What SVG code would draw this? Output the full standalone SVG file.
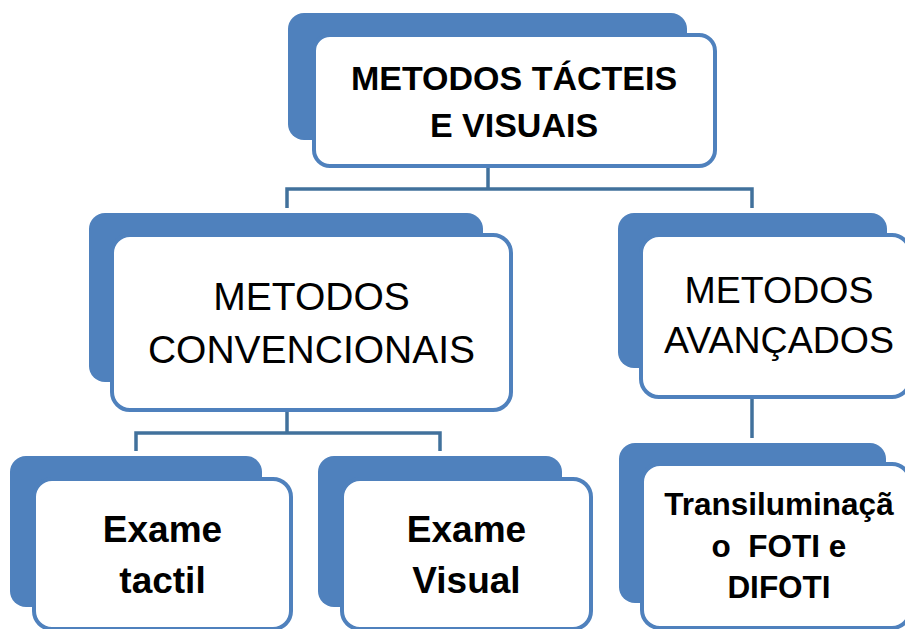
<svg xmlns="http://www.w3.org/2000/svg" width="905" height="629" viewBox="0 0 905 629">
<style>
.back{fill:#4F81BD;}
.front{fill:#FFFFFF;stroke:#4F81BD;stroke-width:4;}
.conn{fill:none;stroke:#41719C;stroke-width:3.5;stroke-linejoin:miter;}
.t{font-family:"Liberation Sans",Arial,sans-serif;fill:#000;text-anchor:middle;}
.b{font-weight:bold;}
</style>
<rect width="905" height="629" fill="#FFFFFF"/>
<g id="connectors">
<path class="conn" d="M488,168 V189"/>
<path class="conn" d="M287,208 V189 H752 V208"/>
<path class="conn" d="M287,412 V433"/>
<path class="conn" d="M136,451 V433 H440 V451"/>
<path class="conn" d="M752,399 V438"/>
</g>
<g id="node-root">
<rect class="back" x="288" y="13" width="399" height="127" rx="16"/>
<rect class="front" x="314" y="35" width="401" height="131" rx="16"/>
<text class="t b" x="514" y="90" font-size="34">METODOS TÁCTEIS</text>
<text class="t b" x="514" y="137" font-size="34">E VISUAIS</text>
</g>
<g id="node-convencionais">
<rect class="back" x="89" y="213" width="394" height="169" rx="16"/>
<rect class="front" x="112" y="235" width="399" height="175" rx="18"/>
<text class="t" x="311.5" y="310" font-size="39">METODOS</text>
<text class="t" x="311.5" y="363" font-size="39">CONVENCIONAIS</text>
</g>
<g id="node-avancados">
<rect class="back" x="618" y="213" width="269" height="155" rx="16"/>
<rect class="front" x="641" y="235" width="269" height="162" rx="18"/>
<text class="t" x="779" y="303" font-size="37.5">METODOS</text>
<text class="t" x="779" y="353" font-size="37.5">AVANÇADOS</text>
</g>
<g id="node-tactil">
<rect class="back" x="10" y="456" width="252" height="151" rx="16"/>
<rect class="front" x="34" y="479" width="257" height="150" rx="18"/>
<text class="t b" x="162.5" y="542" font-size="37">Exame</text>
<text class="t b" x="162.5" y="593" font-size="37">tactil</text>
</g>
<g id="node-visual">
<rect class="back" x="318" y="456" width="244" height="151" rx="16"/>
<rect class="front" x="342" y="479" width="249" height="150" rx="18"/>
<text class="t b" x="466.5" y="542" font-size="37">Exame</text>
<text class="t b" x="466.5" y="593" font-size="37">Visual</text>
</g>
<g id="node-transiluminacao">
<rect class="back" x="619" y="443" width="267" height="160" rx="16"/>
<rect class="front" x="642" y="464" width="268" height="164" rx="18"/>
<text class="t b" x="779" y="515" font-size="31.5">Transiluminaçã</text>
<text class="t b" x="779" y="557" font-size="31.5" xml:space="preserve">o  FOTI e</text>
<text class="t b" x="779" y="598" font-size="31.5">DIFOTI</text>
</g>
</svg>
